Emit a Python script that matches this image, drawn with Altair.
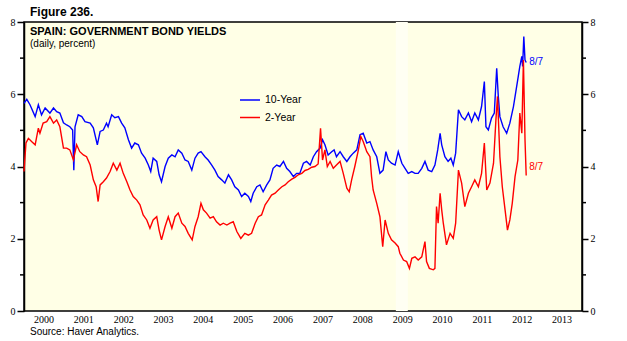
import altair as alt
import pandas as pd

# ---- data (decimal year, percent) ----
ten_t = [2000.00, 2000.07, 2000.15, 2000.28, 2000.36, 2000.44, 2000.53, 2000.65, 2000.74, 2000.82,
         2000.90, 2000.99, 2001.07, 2001.15, 2001.22, 2001.25, 2001.28, 2001.36, 2001.45, 2001.53,
         2001.66, 2001.74, 2001.84, 2001.91, 2001.99, 2002.07, 2002.11, 2002.20, 2002.28, 2002.37,
         2002.45, 2002.53, 2002.62, 2002.70, 2002.78, 2002.87, 2002.95, 2003.04, 2003.12, 2003.18,
         2003.24, 2003.33, 2003.39, 2003.45, 2003.54, 2003.62, 2003.71, 2003.79, 2003.87, 2003.96,
         2004.04, 2004.12, 2004.21, 2004.29, 2004.37, 2004.44, 2004.54, 2004.62, 2004.71, 2004.79,
         2004.87, 2004.96, 2005.04, 2005.13, 2005.21, 2005.29, 2005.38, 2005.46, 2005.54, 2005.63,
         2005.69, 2005.75, 2005.84, 2005.92, 2006.00, 2006.09, 2006.17, 2006.25, 2006.34, 2006.42,
         2006.51, 2006.59, 2006.67, 2006.76, 2006.84, 2006.92, 2007.01, 2007.09, 2007.18, 2007.26,
         2007.34, 2007.43, 2007.49, 2007.55, 2007.63, 2007.72, 2007.78, 2007.84, 2007.93, 2008.01,
         2008.10, 2008.18, 2008.26, 2008.35, 2008.43, 2008.51, 2008.60, 2008.68, 2008.76, 2008.85,
         2008.93, 2009.01, 2009.08, 2009.14, 2009.22, 2009.31, 2009.39, 2009.48, 2009.56, 2009.64,
         2009.73, 2009.81, 2009.89, 2009.98, 2010.06, 2010.14, 2010.23, 2010.31, 2010.38, 2010.44,
         2010.48, 2010.56, 2010.64, 2010.71, 2010.77, 2010.83, 2010.90, 2010.98, 2011.06, 2011.15,
         2011.23, 2011.31, 2011.40, 2011.48, 2011.55, 2011.59, 2011.65, 2011.73, 2011.80, 2011.86,
         2011.90, 2011.94, 2012.02, 2012.11, 2012.19, 2012.28, 2012.36, 2012.40, 2012.44, 2012.49,
         2012.51, 2012.54, 2012.57, 2012.60]
ten_v = [5.75, 5.86, 5.71, 5.38, 5.71, 5.43, 5.62, 5.48, 5.62, 5.52,
         5.48, 5.21, 5.15, 5.10, 5.01, 3.90, 5.10, 5.43, 5.38, 5.24,
         5.20, 5.07, 4.60, 4.97, 5.01, 5.20, 5.10, 5.43, 5.35, 5.38,
         5.20, 5.07, 4.74, 4.51, 4.65, 4.60, 4.37, 4.23, 4.04, 3.86,
         4.23, 4.14, 3.77, 3.58, 4.00, 4.23, 4.32, 4.27, 4.46, 4.37,
         4.18, 4.14, 3.90, 4.23, 4.37, 4.41, 4.27, 4.18, 4.04, 3.90,
         3.72, 3.63, 3.54, 3.77, 3.63, 3.44, 3.35, 3.17, 3.26, 3.17,
         3.03, 3.26, 3.44, 3.49, 3.30, 3.49, 3.63, 3.95, 4.04, 4.00,
         4.14, 3.95, 3.86, 3.72, 3.81, 3.81, 4.09, 4.14, 4.04, 4.27,
         4.41, 4.51, 4.74, 4.60, 4.32, 4.41, 4.46, 4.27, 4.41, 4.27,
         4.14, 4.27, 4.37, 4.46, 4.88, 4.92, 4.65, 4.69, 4.46, 4.27,
         3.81, 3.90, 4.41, 4.18, 4.09, 4.04, 4.41, 4.09, 3.95, 3.81,
         3.86, 3.81, 3.81, 3.95, 4.14, 3.90, 3.86, 4.04, 4.46, 4.92,
         4.60, 4.27, 4.14, 4.23, 4.04, 4.37, 5.57, 5.38, 5.29, 5.48,
         5.24, 5.48, 5.29, 5.66, 6.35, 5.10, 5.01, 5.34, 5.48, 6.72,
         5.94, 5.38, 5.10, 4.92, 5.20, 5.66, 6.21, 6.49, 6.77, 7.05,
         6.77, 7.60, 6.95, 6.88]

two_t = [2000.00, 2000.05, 2000.11, 2000.19, 2000.28, 2000.36, 2000.40, 2000.48, 2000.57, 2000.65,
         2000.74, 2000.82, 2000.90, 2000.99, 2001.07, 2001.15, 2001.24, 2001.32, 2001.40, 2001.49,
         2001.57, 2001.66, 2001.74, 2001.81, 2001.86, 2001.91, 2001.99, 2002.07, 2002.16, 2002.24,
         2002.33, 2002.41, 2002.49, 2002.58, 2002.66, 2002.74, 2002.83, 2002.91, 2002.99, 2003.08,
         2003.16, 2003.24, 2003.33, 2003.39, 2003.45, 2003.54, 2003.62, 2003.71, 2003.79, 2003.87,
         2003.96, 2004.04, 2004.12, 2004.22, 2004.29, 2004.37, 2004.44, 2004.50, 2004.58, 2004.67,
         2004.75, 2004.83, 2004.92, 2005.00, 2005.09, 2005.17, 2005.25, 2005.34, 2005.44, 2005.54,
         2005.63, 2005.71, 2005.80, 2005.88, 2005.96, 2006.05, 2006.13, 2006.21, 2006.30, 2006.38,
         2006.47, 2006.55, 2006.63, 2006.72, 2006.80, 2006.88, 2006.97, 2007.05, 2007.13, 2007.22,
         2007.30, 2007.38, 2007.44, 2007.49, 2007.55, 2007.61, 2007.68, 2007.76, 2007.84, 2007.93,
         2008.01, 2008.10, 2008.16, 2008.22, 2008.30, 2008.39, 2008.45, 2008.51, 2008.60, 2008.68,
         2008.72, 2008.76, 2008.85, 2008.93, 2009.00, 2009.06, 2009.14, 2009.22, 2009.31, 2009.39,
         2009.43, 2009.52, 2009.60, 2009.67, 2009.73, 2009.81, 2009.89, 2009.98, 2010.06, 2010.10,
         2010.17, 2010.27, 2010.31, 2010.35, 2010.39, 2010.44, 2010.48, 2010.52, 2010.60, 2010.69,
         2010.77, 2010.83, 2010.90, 2010.98, 2011.06, 2011.15, 2011.23, 2011.31, 2011.40, 2011.48,
         2011.55, 2011.61, 2011.69, 2011.78, 2011.84, 2011.88, 2011.94, 2012.00, 2012.07, 2012.13,
         2012.19, 2012.25, 2012.32, 2012.39, 2012.44, 2012.49, 2012.53, 2012.57, 2012.60]
two_v = [3.86, 4.65, 4.78, 4.69, 4.60, 5.06, 4.92, 5.20, 5.24, 5.38,
         5.20, 5.29, 5.10, 4.51, 4.51, 4.46, 4.18, 4.60, 4.41, 4.32,
         4.27, 4.04, 3.63, 3.44, 3.03, 3.49, 3.58, 3.68, 3.86, 4.09,
         3.90, 4.09, 3.81, 3.58, 3.35, 3.17, 3.07, 2.94, 2.66, 2.52,
         2.29, 2.52, 2.61, 2.24, 1.97, 2.34, 2.61, 2.29, 2.61, 2.71,
         2.43, 2.34, 2.15, 1.97, 2.34, 2.61, 2.98, 2.80, 2.71, 2.57,
         2.61, 2.47, 2.38, 2.43, 2.38, 2.43, 2.47, 2.20, 2.01, 2.15,
         2.10, 2.15, 2.43, 2.61, 2.66, 2.94, 3.07, 3.21, 3.26, 3.35,
         3.44, 3.49, 3.58, 3.65, 3.70, 3.77, 3.81, 3.89, 3.92, 3.98,
         4.00, 4.07, 5.06, 4.18, 4.46, 4.00, 4.14, 3.95, 4.04, 4.14,
         3.81, 3.40, 3.30, 3.63, 4.00, 4.46, 4.83, 4.69, 4.41, 4.27,
         3.72, 3.35, 2.98, 2.61, 1.78, 2.52, 2.15, 1.97, 1.88, 1.78,
         1.60, 1.41, 1.37, 1.18, 1.46, 1.50, 1.41, 1.50, 1.92, 1.37,
         1.18, 1.14, 1.18, 2.89, 2.43, 3.26, 2.80, 2.43, 1.83, 2.15,
         2.01, 2.43, 3.90, 3.54, 2.89, 3.26, 3.44, 3.63, 3.44, 3.81,
         4.65, 3.35, 3.54, 4.09, 5.29, 5.94, 4.27, 3.44, 2.80, 2.24,
         2.52, 2.98, 3.72, 4.18, 5.48, 4.92, 6.95, 4.74, 3.75]

series_names = ["10-Year", "2-Year"]
series_colors = ["#0000FF", "#FF0000"]
years = list(range(2000, 2014))
major_ticks = [0, 2, 4, 6, 8]
minor_ticks = [1, 3, 5, 7]
end_label = "8/7"
shade_band = [2009.33, 2009.63]

# ---- build ----
W, H = 558, 289
xs = alt.Scale(domain=[2000, 2014], nice=False, zero=False)
ys = alt.Scale(domain=[0, 8], nice=False)
LAB = "Liberation Sans"
SER = "Liberation Serif"

ten = pd.DataFrame({"t": ten_t, "v": ten_v})
two = pd.DataFrame({"t": two_t, "v": two_v})

x_axis = alt.Axis(values=list(range(2000, 2015)), labels=False, tickSize=7, title=None,
                  grid=False, domainColor="black", tickColor="black", domainWidth=1.5,
                  tickWidth=1.5)
y_left = alt.Axis(orient="left", values=major_ticks, tickSize=7, title=None, grid=False,
                  domainColor="black", tickColor="black", domainWidth=1.5, tickWidth=1.5,
                  labelFont=SER, labelFontSize=10, labelColor="black", labelPadding=2)
y_right = alt.Axis(orient="right", values=major_ticks, tickSize=6, title=None, grid=False,
                   domainColor="black", tickColor="black", domainWidth=1.5, tickWidth=1.5,
                   labelFont=SER, labelFontSize=10, labelColor="black", labelPadding=2)

band = alt.Chart(pd.DataFrame({"a": [shade_band[0]], "b": [shade_band[1]]})).mark_rect(
    color="#FFFFF3").encode(
    x=alt.X("a:Q", scale=xs, axis=x_axis), x2="b:Q",
    y=alt.value(0), y2=alt.value(H))

blue = alt.Chart(ten).mark_line(color=series_colors[0], strokeWidth=1.4).encode(
    x=alt.X("t:Q", scale=xs, axis=x_axis),
    y=alt.Y("v:Q", scale=ys, axis=y_left))

red = alt.Chart(two).mark_line(color=series_colors[1], strokeWidth=1.4).encode(
    x=alt.X("t:Q", scale=xs, axis=x_axis),
    y=alt.Y("v:Q", scale=ys, axis=None))

minor_df = pd.DataFrame({"m": minor_ticks})
minor_l = alt.Chart(minor_df).mark_rule(color="black", strokeWidth=1.5).encode(
    y=alt.Y("m:Q", scale=ys, axis=y_right), x=alt.value(-4), x2=alt.value(0))
minor_r = alt.Chart(minor_df).mark_rule(color="black", strokeWidth=1.5).encode(
    y=alt.Y("m:Q", scale=ys, axis=None), x=alt.value(W), x2=alt.value(W + 4))

year_labels = alt.Chart(pd.DataFrame({"y": years})).transform_calculate(
    mid="datum.y + 0.5").mark_text(font=SER, fontSize=10, color="black",
                                   baseline="middle").encode(
    x=alt.X("mid:Q", scale=xs, axis=None), y=alt.value(H + 9), text="y:N")

ends = pd.DataFrame({"t": [ten_t[-1], two_t[-1]], "v": [ten_v[-1], two_v[-1]],
                     "lab": [end_label, end_label]})
end_blue = alt.Chart(ends.iloc[[0]]).mark_text(font=LAB, fontSize=10, align="left",
                                             baseline="middle", dx=3, dy=0,
                                             color=series_colors[0]).encode(
    x=alt.X("t:Q", scale=xs, axis=None), y=alt.Y("v:Q", scale=ys, axis=None), text="lab:N")
end_red = alt.Chart(ends.iloc[[1]]).mark_text(font=LAB, fontSize=10, align="left",
                                            baseline="middle", dx=3, dy=-9,
                                            color=series_colors[1]).encode(
    x=alt.X("t:Q", scale=xs, axis=None), y=alt.Y("v:Q", scale=ys, axis=None), text="lab:N")

def label(txt, x, y, size, bold=False, color="black"):
    return alt.Chart(pd.DataFrame({"l": [txt]})).mark_text(
        font=LAB, fontSize=size, fontWeight="bold" if bold else "normal", align="left",
        baseline="middle", color=color).encode(x=alt.value(x), y=alt.value(y), text="l:N")

leg_df = pd.DataFrame({"s": series_names, "c": series_colors})
legend_lines = []
legend_texts = []
for i, (nm, col) in enumerate(zip(series_names, series_colors)):
    yy = 78 + i * 17.5
    legend_lines.append(alt.Chart(leg_df.iloc[[i]]).mark_rule(color=col, strokeWidth=1.5).encode(
        x=alt.value(216), x2=alt.value(236), y=alt.value(yy)))
    legend_texts.append(label(nm, 241, yy, 10.5))

chart = alt.layer(
    band, blue, red, minor_l, minor_r, year_labels, end_blue, end_red,
    label("Figure 236.", 6, -10, 12, True),
    label("SPAIN: GOVERNMENT BOND YIELDS", 6, 9.5, 11, True),
    label("(daily, percent)", 6, 21.5, 10),
    label("Source: Haver Analytics.", 6, H + 21, 10),
    *legend_lines, *legend_texts,
).resolve_axis(y="independent").properties(
    width=W, height=H,
    autosize=alt.AutoSizeParams(type="none"),
    padding={"left": 24, "top": 22, "right": 45, "bottom": 30},
    background="white",
).configure_view(fill="#FFFFE6", stroke="black", strokeWidth=1.5)

chart.save("out.html", embed_options={"renderer": "svg", "actions": False})
